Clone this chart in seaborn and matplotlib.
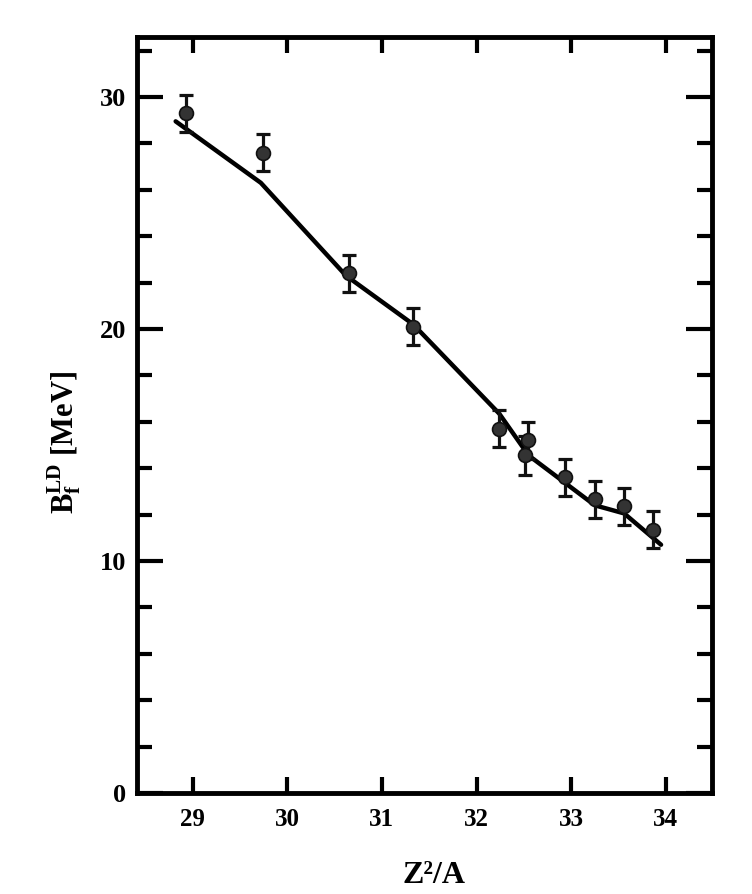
import matplotlib
matplotlib.use("Agg")
import matplotlib.pyplot as plt
import seaborn as sns
from matplotlib.ticker import MultipleLocator, FixedLocator, NullLocator

# ---- data ----
z2a_points = [28.93, 29.74, 30.65, 31.33, 32.24, 32.54, 32.51, 32.94, 33.25, 33.56, 33.87]
bf_points = [29.3, 27.6, 22.4, 20.1, 15.7, 15.2, 14.55, 13.6, 12.65, 12.35, 11.35]
bf_errors = [0.8, 0.8, 0.8, 0.8, 0.8, 0.8, 0.85, 0.8, 0.8, 0.8, 0.8]

z2a_curve = [28.82, 29.72, 30.62, 31.33, 32.24, 32.55, 33.25, 33.56, 33.95]
bf_curve = [28.95, 26.3, 22.3, 20.2, 16.35, 14.55, 12.4, 12.05, 10.7]

x_ticks = [29, 30, 31, 32, 33, 34]
y_ticks = [0, 10, 20, 30]

sns.set_style("ticks")
plt.rcParams["font.family"] = ["Liberation Serif", "DejaVu Serif"]
plt.rcParams["font.weight"] = "bold"
plt.rcParams["text.color"] = "black"
plt.rcParams["axes.labelcolor"] = "black"
plt.rcParams["xtick.color"] = "black"
plt.rcParams["ytick.color"] = "black"
plt.rcParams["mathtext.fontset"] = "custom"
plt.rcParams["mathtext.rm"] = "Liberation Serif:bold"
plt.rcParams["mathtext.it"] = "Liberation Serif:bold"
plt.rcParams["mathtext.bf"] = "Liberation Serif:bold"

fig = plt.figure(figsize=(7.52, 8.94), dpi=100)
ax = fig.add_axes([0.182, 0.113, 0.765, 0.846])

sns.lineplot(x=z2a_curve, y=bf_curve, sort=False, color="black", lw=3.2, ax=ax, zorder=2)
ax.errorbar(z2a_points, bf_points, yerr=bf_errors, fmt="none", ecolor="#111111",
            elinewidth=2.3, capsize=5, capthick=2.3, zorder=3)
sns.scatterplot(x=z2a_points, y=bf_points, s=100, color="#333333", edgecolor="#111111",
                linewidth=1.2, ax=ax, zorder=4)

ax.set_xlim(28.41, 34.49)
ax.set_ylim(0, 32.6)
ax.xaxis.set_major_locator(FixedLocator(x_ticks))
ax.xaxis.set_minor_locator(NullLocator())
ax.yaxis.set_major_locator(FixedLocator(y_ticks))
ax.yaxis.set_minor_locator(MultipleLocator(2))

for s in ax.spines.values():
    s.set_linewidth(3.5)
    s.set_color("black")

ax.tick_params(axis="both", which="both", direction="in", top=True, right=True,
               color="black", width=3, labelcolor="black")
ax.tick_params(axis="x", which="major", length=11.5, pad=11, labelsize=18)
ax.tick_params(axis="y", which="major", length=19, pad=8, labelsize=19)
ax.tick_params(axis="y", which="minor", length=11)
for lab in ax.get_xticklabels() + ax.get_yticklabels():
    lab.set_fontweight("bold")

ax.set_xlabel("Z²/A", fontsize=23, fontweight="bold", color="black")
ax.set_ylabel(r"$\mathrm{B_f^{LD}}$ [MeV]", fontsize=22, fontweight="bold", color="black")
ax.xaxis.set_label_coords(0.517, -0.090)
ax.yaxis.set_label_coords(-0.093, 0.464)

fig.savefig("out.png", dpi=100)
